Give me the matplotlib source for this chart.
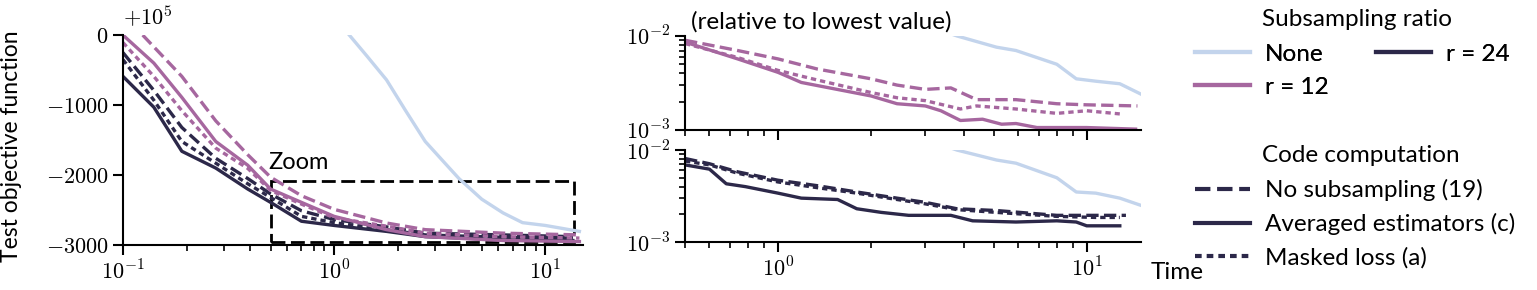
import numpy as np
import matplotlib
matplotlib.use("Agg")
from matplotlib import pyplot as plt
from matplotlib.lines import Line2D
from matplotlib.patches import Rectangle
from matplotlib.ticker import NullFormatter, LogLocator, FuncFormatter

plt.rcParams['font.family'] = ['Lato', 'DejaVu Sans']
plt.rcParams['mathtext.fontset'] = 'cm'

# colours
c_none = '#c3d4ec'
c_r12 = '#a6679f'
c_r24 = '#2c2849'

# ---- left panel: test objective (offset +1e5) ----
t_none = [1.18, 1.43, 1.77, 2.18, 2.7, 3.3, 3.9, 5.0, 6.3, 7.8, 10, 14.5]
v_none = [0, -300, -640, -1080, -1520, -1810, -2050, -2345, -2540, -2680, -2720, -2805]

t_grid = [0.1, 0.14, 0.19, 0.275, 0.39, 0.5, 0.7, 1.0, 1.77, 2.7, 6.3, 13.5]
v_r24_avg = [-590, -1030, -1660, -1900, -2200, -2390, -2660, -2720, -2805, -2880, -2925, -2935]
v_r24_nosub = [-250, -790, -1320, -1760, -2050, -2270, -2510, -2635, -2740, -2830, -2855, -2880]
v_r24_mask = [-350, -930, -1520, -1830, -2125, -2320, -2590, -2680, -2780, -2855, -2890, -2900]

t_r12 = [0.1, 0.14, 0.19, 0.275, 0.39, 0.5, 0.7, 1.0, 1.77, 2.7, 6.3, 14.5]
v_r12_avg = [0, -400, -890, -1520, -1860, -2200, -2390, -2590, -2780, -2880, -2935, -2950]
v_r12_mask = [-107, -590, -1080, -1615, -1905, -2220, -2415, -2610, -2730, -2830, -2880, -2900]
t_r12_nosub = [0.124, 0.19, 0.275, 0.39, 0.5, 0.7, 1.0, 1.77, 2.7, 6.3, 14.5]
v_r12_nosub = [0, -590, -1225, -1710, -2030, -2295, -2490, -2685, -2780, -2830, -2855]

# ---- right panels: relative to lowest value ----
tz_none = [3.5, 3.8, 5.1, 5.9, 8.0, 9.25, 10.7, 12.8, 15]
rz_none_top = [1.1e-2, 1.0e-2, 7.6e-3, 7.0e-3, 5.0e-3, 3.5e-3, 3.3e-3, 3.1e-3, 2.4e-3]
rz_none_bot = [1.1e-2, 1.0e-2, 7.8e-3, 7.2e-3, 5.0e-3, 3.5e-3, 3.4e-3, 3.0e-3, 2.5e-3]

tz_r12_avg = [0.5, 0.74, 1.0, 1.19, 2.0, 2.43, 3.0, 3.37, 3.9, 4.6, 5.3, 5.9, 6.9, 10, 14.4]
rz_r12_avg = [8.6e-3, 5.7e-3, 4.1e-3, 3.2e-3, 2.3e-3, 1.9e-3, 1.8e-3, 1.6e-3, 1.26e-3,
              1.3e-3, 1.15e-3, 1.17e-3, 1.06e-3, 1.06e-3, 1.02e-3]
tz_r12_nosub = [0.5, 0.74, 1.0, 1.34, 2.0, 2.43, 3.0, 3.63, 4.4, 5.9, 8.0, 10, 14.6]
rz_r12_nosub = [9.0e-3, 7.0e-3, 5.7e-3, 4.45e-3, 3.5e-3, 3.0e-3, 2.7e-3, 2.8e-3, 2.1e-3,
                2.1e-3, 1.9e-3, 1.85e-3, 1.8e-3]
tz_r12_mask = [0.5, 0.74, 1.0, 1.34, 2.0, 2.43, 3.0, 3.9, 4.4, 5.9, 8.0, 10, 12.8]
rz_r12_mask = [8.3e-3, 5.9e-3, 4.3e-3, 3.4e-3, 2.5e-3, 2.2e-3, 2.05e-3, 1.67e-3, 1.8e-3,
               1.67e-3, 1.5e-3, 1.6e-3, 1.48e-3]

tz_r24_avg = [0.5, 0.6, 0.68, 0.785, 1.0, 1.19, 1.56, 1.8, 2.16, 2.65, 3.63, 4.27, 5.9, 8.0,
              9.25, 10, 12.8]
rz_r24_avg = [6.9e-3, 6.2e-3, 4.3e-3, 4.0e-3, 3.4e-3, 3.0e-3, 2.9e-3, 2.3e-3, 2.1e-3, 1.95e-3,
              1.95e-3, 1.7e-3, 1.65e-3, 1.7e-3, 1.65e-3, 1.5e-3, 1.5e-3]
tz_r24_nosub = [0.5, 0.6, 0.74, 1.0, 1.34, 1.8, 2.43, 3.0, 3.8, 5.1, 8.0, 10.7, 13.4]
rz_r24_nosub = [8.1e-3, 7.1e-3, 5.8e-3, 4.7e-3, 4.1e-3, 3.5e-3, 3.0e-3, 2.7e-3, 2.3e-3,
                2.2e-3, 1.95e-3, 1.95e-3, 1.95e-3]
tz_r24_mask = [0.5, 0.6, 0.74, 1.0, 1.34, 1.8, 2.43, 3.0, 3.8, 5.1, 8.0, 10.7, 12.8]
rz_r24_mask = [7.6e-3, 6.9e-3, 5.6e-3, 4.5e-3, 3.9e-3, 3.4e-3, 2.9e-3, 2.6e-3, 2.25e-3,
               2.1e-3, 1.9e-3, 1.85e-3, 1.85e-3]

ls_dash = (0, (3.7, 1.6))
ls_dot = (0, (1.6, 1.2))
lw = 2.4
fs = 17.5      # sans text
fs_tick = 16   # serif (cm) tick labels

lin_fmt = FuncFormatter(lambda v, p: '$%d$' % int(round(v)))
log_fmt = FuncFormatter(lambda v, p: '$10^{%d}$' % int(round(np.log10(v))))

fig = plt.figure(figsize=(15.37, 2.9), dpi=100)
ax = fig.add_axes([0.080, 0.155, 0.299, 0.724])
ax_t = fig.add_axes([0.4457, 0.552, 0.2967, 0.324])
ax_b = fig.add_axes([0.4457, 0.1655, 0.2967, 0.317])

# left
ax.plot(t_none, v_none, color=c_none, lw=lw)
ax.plot(t_grid, v_r24_avg, color=c_r24, lw=lw)
ax.plot(t_grid, v_r24_nosub, color=c_r24, lw=lw, ls=ls_dash)
ax.plot(t_grid, v_r24_mask, color=c_r24, lw=lw, ls=ls_dot)
ax.plot(t_r12, v_r12_avg, color=c_r12, lw=lw)
ax.plot(t_r12_nosub, v_r12_nosub, color=c_r12, lw=lw, ls=ls_dash)
ax.plot(t_r12, v_r12_mask, color=c_r12, lw=lw, ls=ls_dot)
ax.set_xscale('log')
ax.set_xlim(0.1, 15)
ax.set_ylim(-3000, 0)
ax.set_yticks([0, -1000, -2000, -3000])
ax.yaxis.set_major_formatter(lin_fmt)
ax.xaxis.set_major_formatter(log_fmt)
ax.add_patch(Rectangle((0.5, -2950), 13.2, 865, fill=False, ec='black',
                       lw=2, ls=(0, (5, 2))))
ax.text(0.49, -1823, 'Zoom', fontsize=17, va='center', ha='left')
ax.text(0.0, 1.03, r'$+10^{5}$', transform=ax.transAxes, fontsize=fs_tick,
        ha='left', va='bottom')
ax.set_ylabel('Test objective function', fontsize=16.5)
ax.yaxis.set_label_coords(-0.22, 0.47)

# right
ax_t.plot(tz_none, rz_none_top, color=c_none, lw=lw)
ax_t.plot(tz_r12_avg, rz_r12_avg, color=c_r12, lw=lw)
ax_t.plot(tz_r12_nosub, rz_r12_nosub, color=c_r12, lw=lw, ls=ls_dash)
ax_t.plot(tz_r12_mask, rz_r12_mask, color=c_r12, lw=lw, ls=ls_dot)

ax_b.plot(tz_none, rz_none_bot, color=c_none, lw=lw)
ax_b.plot(tz_r24_avg, rz_r24_avg, color=c_r24, lw=lw)
ax_b.plot(tz_r24_nosub, rz_r24_nosub, color=c_r24, lw=lw, ls=ls_dash)
ax_b.plot(tz_r24_mask, rz_r24_mask, color=c_r24, lw=lw, ls=ls_dot)

for a in (ax_t, ax_b):
    a.set_xscale('log')
    a.set_yscale('log')
    a.set_xlim(0.5, 15)
    a.set_ylim(1e-3, 1e-2)
    a.yaxis.set_major_locator(LogLocator(base=10))
    a.yaxis.set_minor_locator(LogLocator(base=10, subs=range(2, 10)))
    a.xaxis.set_major_formatter(log_fmt)
    a.yaxis.set_major_formatter(log_fmt)
ax_t.tick_params(labelbottom=False)
ax_t.text(0.013, 1.15, '(relative to lowest value)', transform=ax_t.transAxes,
          fontsize=fs, ha='left', va='center')
ax_b.text(1.02, -0.33, 'Time', transform=ax_b.transAxes, fontsize=fs,
          ha='left', va='center')

for a in (ax, ax_t, ax_b):
    for s in ('top', 'right'):
        a.spines[s].set_visible(False)
    for s in ('left', 'bottom'):
        a.spines[s].set_linewidth(1.5)
    a.xaxis.set_minor_formatter(NullFormatter())
    a.yaxis.set_minor_formatter(NullFormatter())
    a.tick_params(which='major', length=7, width=1.5, labelsize=fs_tick)
    a.tick_params(which='minor', length=4, width=1.2)

# legends
fig.text(1262 / 1537, 1 - 20 / 290, 'Subsampling ratio', fontsize=fs, va='center')
h1 = [Line2D([], [], color=c_none, lw=3),
      Line2D([], [], color=c_r12, lw=3),
      Line2D([], [], color=c_r24, lw=3)]
leg1 = fig.legend(h1, ['None', 'r = 12', 'r = 24'], ncol=2, loc='upper left',
                  bbox_to_anchor=(1195 / 1537, 0.85), frameon=False, fontsize=fs,
                  borderpad=0, borderaxespad=0, handlelength=2.26, handletextpad=0.62,
                  labelspacing=0.5, columnspacing=1.95)

fig.text(1262 / 1537, 1 - 155 / 290, 'Code computation', fontsize=fs, va='center')
h2 = [Line2D([], [], color=c_r24, lw=3, ls=ls_dash),
      Line2D([], [], color=c_r24, lw=3),
      Line2D([], [], color=c_r24, lw=3, ls=ls_dot)]
fig.legend(h2, ['No subsampling (19)', 'Averaged estimators (c)', 'Masked loss (a)'],
           loc='upper left', bbox_to_anchor=(1195 / 1537, 0.383), frameon=False,
           fontsize=fs, borderpad=0, borderaxespad=0, handlelength=2.26,
           handletextpad=0.62, labelspacing=0.5)
fig.add_artist(leg1)

plt.savefig('out.png', dpi=100)
